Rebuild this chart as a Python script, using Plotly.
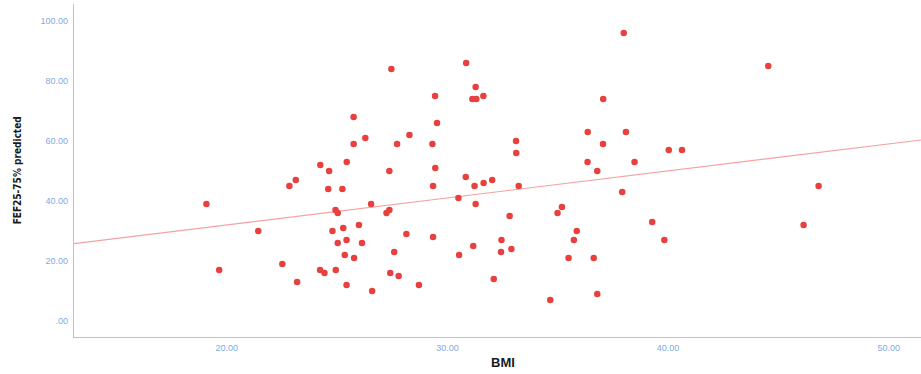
import numpy as np
import plotly.graph_objects as go

# BMI and FEF25-75% predicted for each subject
bmi = [19.08, 19.66, 21.43, 22.52, 22.84, 23.13, 23.19, 24.24, 24.23, 24.43,
       24.64, 24.60, 24.79, 24.93, 25.03, 24.94, 25.03, 25.24, 25.28, 25.44,
       25.43, 25.35, 25.43, 25.75, 25.75, 25.77, 25.99, 26.13, 26.28, 26.54,
       26.59, 27.24, 27.37, 27.37, 27.46, 27.41, 27.59, 27.72, 27.79, 28.14,
       28.28, 28.71, 29.32, 29.35, 29.35, 29.44, 29.45, 29.53, 30.50, 30.53,
       30.83, 30.85, 31.13, 31.31, 31.28, 31.63, 31.23, 31.28, 31.17, 31.64,
       32.03, 32.10, 32.43, 32.45, 32.82, 32.90, 33.11, 33.12, 33.23, 34.66,
       34.99, 35.19, 35.49, 35.73, 35.86, 36.35, 36.36, 36.63, 36.79, 36.79,
       37.06, 37.05, 37.92, 37.99, 38.09, 38.48, 39.28, 39.83, 40.03, 40.63,
       44.54, 46.14, 46.82]
fef = [39, 17, 30, 19, 45, 47, 13, 52, 17, 16,
       50, 44, 30, 37, 36, 17, 26, 44, 31, 53,
       27, 22, 12, 68, 59, 21, 32, 26, 61, 39,
       10, 36, 37, 50, 84, 16, 23, 59, 15, 29,
       62, 12, 59, 45, 28, 75, 51, 66, 41, 22,
       48, 86, 74, 74, 78, 75, 45, 39, 25, 46,
       47, 14, 23, 27, 35, 24, 60, 56, 45, 7,
       36, 38, 21, 27, 30, 53, 63, 21, 9, 50,
       74, 59, 43, 96, 63, 53, 33, 27, 57, 57,
       85, 32, 45]

x_ticks = [20, 30, 40, 50]
x_tick_text = ["20.00", "30.00", "40.00", "50.00"]
y_ticks = [0, 20, 40, 60, 80, 100]
y_tick_text = [".00", "20.00", "40.00", "60.00", "80.00", "100.00"]

x_range = [13.08, 51.46]
y_range = [-5.33, 105.67]

# Linear least-squares fit line across the full x range
slope, intercept = np.polyfit(bmi, fef, 1)
fit_x = np.array(x_range)
fit_y = intercept + slope * fit_x

tick_font = dict(family="Liberation Sans, Arial, sans-serif", size=9, color="#7fa9e6")
axis_color = "#a9c5ee"

fig = go.Figure()
fig.add_trace(go.Scatter(
    x=fit_x, y=fit_y, mode="lines",
    line=dict(color="#f5a1a1", width=1.2),
    hoverinfo="skip", showlegend=False,
))
fig.add_trace(go.Scatter(
    x=bmi, y=fef, mode="markers",
    marker=dict(color="#e8403f", size=6.5, line=dict(width=0)),
    showlegend=False,
))

fig.update_layout(
    width=921, height=374,
    margin=dict(l=74, r=0, t=4, b=37),
    paper_bgcolor="white", plot_bgcolor="white",
    xaxis=dict(
        range=x_range, tickvals=x_ticks, ticktext=x_tick_text,
        showgrid=False, zeroline=False,
        showline=True, linecolor=axis_color, linewidth=1.2,
        ticks="outside", ticklen=2, tickcolor="rgba(0,0,0,0)",
        tickfont=tick_font,
    ),
    yaxis=dict(
        range=y_range, tickvals=y_ticks, ticktext=y_tick_text,
        showgrid=False, zeroline=False,
        showline=True, linecolor=axis_color, linewidth=1.2,
        ticks="outside", ticklen=3, tickcolor="rgba(0,0,0,0)",
        tickfont=tick_font,
    ),
    annotations=[
        dict(text="<b>FEF25-75% predicted</b>", textangle=-90,
             xref="paper", yref="paper", x=-0.0667, y=0.499,
             xanchor="center", yanchor="middle", showarrow=False,
             font=dict(family="DejaVu Sans Condensed, Liberation Sans Narrow, sans-serif",
                       size=10, color="#1a1a1a")),
        dict(text="<b>BMI</b>",
             xref="paper", yref="paper", x=0.5065, y=-0.078,
             xanchor="center", yanchor="middle", showarrow=False,
             font=dict(family="Liberation Sans, Arial, sans-serif",
                       size=13, color="#1a1a1a")),
    ],
)

fig.write_html("out.html")
